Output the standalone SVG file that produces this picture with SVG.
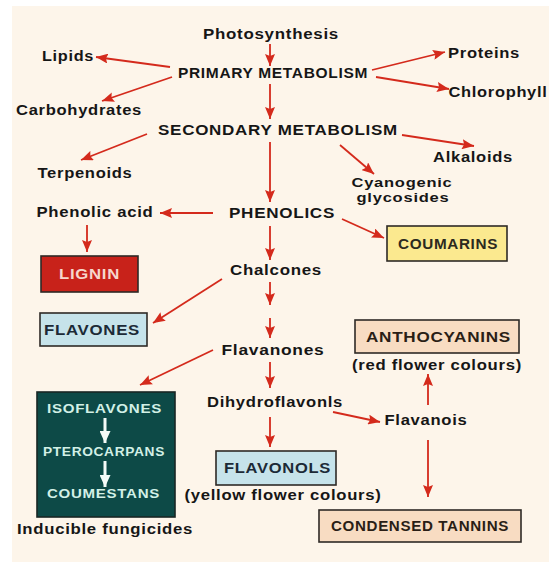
<svg xmlns="http://www.w3.org/2000/svg" width="549" height="562" viewBox="0 0 549 562">
<defs>
<marker id="ah" markerUnits="userSpaceOnUse" markerWidth="12" markerHeight="10" refX="12" refY="5" orient="auto">
<path d="M0,0 L12,5 L0,10 L2,5 Z" fill="#d42a1c"/>
</marker>
<marker id="wh" markerUnits="userSpaceOnUse" markerWidth="12" markerHeight="11" refX="12" refY="5.5" orient="auto">
<path d="M0,0 L12,5.5 L0,11 Z" fill="#f4fbf8"/>
</marker>
</defs>
<style>
text{font-family:"Liberation Sans",Arial,sans-serif;font-weight:bold;font-size:14px;letter-spacing:0.6px;fill:#161616;text-anchor:middle}
.bx{stroke:#2e2a26;stroke-width:1.6}
.ar line{stroke:#d42a1c;stroke-width:1.8;marker-end:url(#ah)}
.wa line{stroke:#f4fbf8;stroke-width:3;marker-end:url(#wh)}
.teal{fill:#d2f0e6;font-size:13px}
.sm{font-size:13px}
</style>
<rect x="12" y="6" width="537" height="556" fill="#fdf5ea"/>
<g id="connectors" class="ar">
<line x1="270" y1="44" x2="270" y2="66"/>
<line x1="170" y1="67" x2="96" y2="57"/>
<line x1="172" y1="77" x2="102" y2="101"/>
<line x1="372" y1="70" x2="445" y2="52"/>
<line x1="376" y1="77" x2="449" y2="89"/>
<line x1="270" y1="84" x2="270" y2="119"/>
<line x1="147" y1="134" x2="81" y2="160"/>
<line x1="402" y1="135" x2="474" y2="146"/>
<line x1="340" y1="145" x2="374" y2="174"/>
<line x1="270" y1="142" x2="270" y2="202"/>
<line x1="213" y1="213" x2="160" y2="213"/>
<line x1="87" y1="225" x2="87" y2="252"/>
<line x1="342" y1="219" x2="384" y2="238"/>
<line x1="270" y1="226" x2="270" y2="260"/>
<line x1="222" y1="279" x2="153" y2="323"/>
<line x1="270" y1="282" x2="270" y2="305"/>
<line x1="270" y1="318" x2="270" y2="338"/>
<line x1="213" y1="350" x2="140" y2="385"/>
<line x1="270" y1="362" x2="270" y2="388"/>
<line x1="270" y1="417" x2="270" y2="447"/>
<line x1="333" y1="412" x2="380" y2="422"/>
<line x1="428" y1="405" x2="428" y2="374"/>
<line x1="428" y1="440" x2="428" y2="497"/>
</g>
<g id="photosynthesis"><text x="271" y="39" textLength="136" lengthAdjust="spacingAndGlyphs">Photosynthesis</text></g>
<g id="lipids"><text x="68" y="61" textLength="52" lengthAdjust="spacingAndGlyphs">Lipids</text></g>
<g id="primary"><text x="273" y="78" textLength="190" lengthAdjust="spacingAndGlyphs">PRIMARY METABOLISM</text></g>
<g id="proteins"><text x="484" y="58" textLength="72" lengthAdjust="spacingAndGlyphs">Proteins</text></g>
<g id="chlorophyll"><text x="498" y="97" textLength="99" lengthAdjust="spacingAndGlyphs">Chlorophyll</text></g>
<g id="carbohydrates"><text x="79" y="115" textLength="126" lengthAdjust="spacingAndGlyphs">Carbohydrates</text></g>
<g id="secondary"><text x="278" y="135" textLength="240" lengthAdjust="spacingAndGlyphs">SECONDARY METABOLISM</text></g>
<g id="alkaloids"><text x="473" y="162" textLength="80" lengthAdjust="spacingAndGlyphs">Alkaloids</text></g>
<g id="terpenoids"><text x="85" y="178" textLength="95" lengthAdjust="spacingAndGlyphs">Terpenoids</text></g>
<g id="cyanogenic"><text class="sm" x="402" y="187" textLength="101" lengthAdjust="spacingAndGlyphs">Cyanogenic</text><text class="sm" x="403" y="202" textLength="93" lengthAdjust="spacingAndGlyphs">glycosides</text></g>
<g id="phenolic-acid"><text x="95" y="217" textLength="117" lengthAdjust="spacingAndGlyphs">Phenolic acid</text></g>
<g id="phenolics"><text x="282" y="218" textLength="106" lengthAdjust="spacingAndGlyphs">PHENOLICS</text></g>
<g id="lignin"><rect class="bx" x="41" y="256" width="97" height="36" fill="#c8221a"/><text x="89.5" y="279" textLength="61" lengthAdjust="spacingAndGlyphs" style="fill:#f6d6cc">LIGNIN</text></g>
<g id="coumarins"><rect class="bx" x="387" y="226" width="120" height="35" fill="#fbe98f"/><text x="448" y="248.5" textLength="100" lengthAdjust="spacingAndGlyphs" style="fill:#2c2a20">COUMARINS</text></g>
<g id="chalcones"><text x="276" y="275" textLength="92" lengthAdjust="spacingAndGlyphs">Chalcones</text></g>
<g id="flavones"><rect class="bx" x="40" y="313" width="107" height="33" fill="#c6e3ea"/><text x="92" y="334.5" textLength="96" lengthAdjust="spacingAndGlyphs" style="fill:#1c2a36">FLAVONES</text></g>
<g id="flavanones"><text x="273" y="355" textLength="103" lengthAdjust="spacingAndGlyphs">Flavanones</text></g>
<g id="anthocyanins"><rect class="bx" x="355" y="320" width="164" height="33" fill="#f8dcc2"/><text x="438.5" y="341.5" textLength="145" lengthAdjust="spacingAndGlyphs" style="fill:#2a1e16">ANTHOCYANINS</text><text x="437" y="370" textLength="170" lengthAdjust="spacingAndGlyphs">(red flower colours)</text></g>
<g id="dihydroflavonls"><text x="275" y="407" textLength="136" lengthAdjust="spacingAndGlyphs">Dihydroflavonls</text></g>
<g id="flavanois"><text x="426" y="425" textLength="83" lengthAdjust="spacingAndGlyphs">Flavanois</text></g>
<g id="flavonols"><rect class="bx" x="216" y="451" width="120" height="34" fill="#c6e3ea"/><text x="277.5" y="473" textLength="107" lengthAdjust="spacingAndGlyphs" style="fill:#1c2a36">FLAVONOLS</text><text x="283" y="500" textLength="197" lengthAdjust="spacingAndGlyphs">(yellow flower colours)</text></g>
<g id="condensed-tannins"><rect class="bx" x="319" y="510" width="202" height="32" fill="#f8dcc2"/><text x="420" y="531" textLength="178" lengthAdjust="spacingAndGlyphs" style="fill:#2a1e16">CONDENSED TANNINS</text></g>
<g id="inducible-fungicides">
<rect x="37" y="392" width="138" height="125" fill="#0d4a47" stroke="#182624" stroke-width="1.6"/>
<text class="teal" x="104.5" y="413" textLength="115" lengthAdjust="spacingAndGlyphs">ISOFLAVONES</text>
<text class="teal" x="104" y="456" textLength="122" lengthAdjust="spacingAndGlyphs">PTEROCARPANS</text>
<text class="teal" x="103.5" y="498" textLength="113" lengthAdjust="spacingAndGlyphs">COUMESTANS</text>
<g class="wa"><line x1="105" y1="418" x2="105" y2="443"/><line x1="105" y1="461" x2="105" y2="487"/></g>
<text x="105" y="534" textLength="176" lengthAdjust="spacingAndGlyphs">Inducible fungicides</text>
</g>
</svg>
